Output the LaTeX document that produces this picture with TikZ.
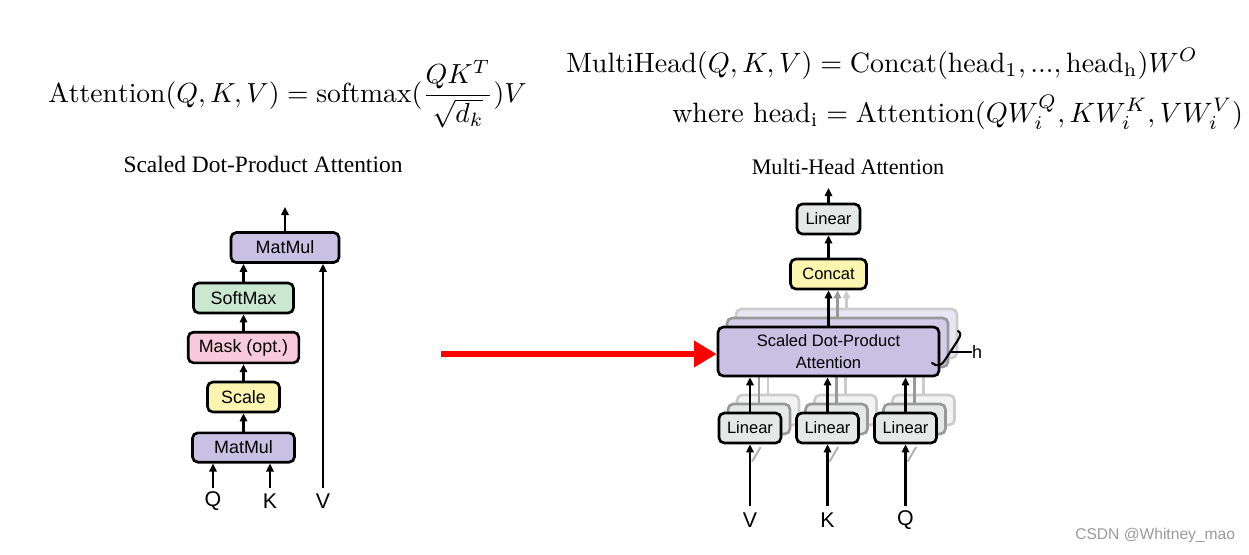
\documentclass[tikz,border=0pt]{standalone}
\usepackage{fontspec}
\usepackage{amsmath}
\usetikzlibrary{arrows.meta}
\newfontfamily\sansf{Liberation Sans}
\newfontfamily\seriff{Liberation Serif}
\definecolor{lav}{HTML}{C9C1E3}
\definecolor{mint}{HTML}{C9E8CF}
\definecolor{pinkb}{HTML}{F9CADB}
\definecolor{yel}{HTML}{FBF5B0}
\definecolor{lgr}{HTML}{E4E8E6}
\definecolor{wm}{HTML}{9A9A9A}
\begin{document}
\begin{tikzpicture}[x=0.75pt,y=-0.75pt,
  box/.style={draw=black, line width=2pt, rounded corners=4pt, inner sep=0pt, align=center},
  lbox/.style={box, font=\fontsize{13.4}{15}\sansf},
  rbox/.style={box, font=\fontsize{12.4}{15}\sansf},
  arr/.style={line width=1.9pt, -{Triangle[length=6pt,width=5.5pt]}},
  lab/.style={font=\fontsize{16}{18}\sansf, inner sep=0pt},
  sdpastyle/.style={rbox, minimum width=165.75pt, minimum height=36.75pt},
  linstyle/.style={rbox, minimum width=46.5pt, minimum height=22.5pt},
  far/.style={draw=gray!40, fill=lav!40},
  mid/.style={draw=gray!80, fill=lav!80},
  farl/.style={draw=gray!40, fill=lgr!50},
  midl/.style={draw=gray!80, fill=lgr},
  ghost/.style={line width=1.5pt, gray!60},
]
\useasboundingbox (0,0) rectangle (1249,554);

% ---------------- equations ----------------
\node[anchor=base west, inner sep=0pt] (eqA) at (48,102)
  {\scalebox{2.07}{$\displaystyle \mathrm{Attention}(Q,K,V)=\mathrm{softmax}(\frac{QK^T}{\sqrt{d_k}})V$}};
\node[anchor=base west, inner sep=0pt] (eqB) at (566,72)
  {\scalebox{2.1}{$\mathrm{MultiHead}(Q,K,V)=\mathrm{Concat}(\mathrm{head_1},...,\mathrm{head_h})W^O$}};
\node[anchor=base west, inner sep=0pt] (eqC) at (672,122)
  {\scalebox{2.1}{$\text{where }\mathrm{head_i}=\mathrm{Attention}(QW_i^Q,KW_i^K,VW_i^V)$}};

% ---------------- titles ----------------
\node[font=\fontsize{17.6}{20}\seriff] (tl) at (263,164) {Scaled Dot-Product Attention};
\node[font=\fontsize{16.6}{19}\seriff] (tr) at (848,167) {Multi-Head Attention};

% ---------------- left diagram ----------------
\node[lbox, fill=lav, minimum width=81pt, minimum height=22.5pt] (mmtop) at (285,247.5) {MatMul};
\node[lbox, fill=mint, minimum width=75pt, minimum height=22.5pt] (soft) at (243.5,298) {SoftMax};
\node[lbox, fill=pinkb, minimum width=83pt, minimum height=23pt] (mask) at (243.5,347.5) {Mask (opt.)};
\node[lbox, fill=yel, minimum width=54pt, minimum height=22.5pt] (scale) at (243.5,397) {Scale};
\node[lbox, fill=lav, minimum width=76.5pt, minimum height=22pt] (mmbot) at (243.5,447.5) {MatMul};

\draw[arr] (mmbot.north) -- (scale.south);
\draw[arr] (scale.north) -- (mask.south);
\draw[arr] (mask.north) -- (soft.south);
\draw[arr] (soft.north) -- (soft.north |- mmtop.south);
\coordinate (outL) at (285,207);
\draw[arr] (mmtop.north) -- (outL);

\coordinate (qin) at (213,488);
\coordinate (kin) at (270,488);
\coordinate (vin) at (323,488);
\draw[arr] (qin) -- (qin |- mmbot.south);
\draw[arr] (kin) -- (kin |- mmbot.south);
\draw[arr] (vin) -- (vin |- mmtop.south);
\node[lab] (ql) at (213,501) {Q};
\node[lab] (kl) at (270,501) {K};
\node[lab] (vl) at (323,501) {V};

% ---------------- right diagram ----------------
% far layer (h-th head)
\node[sdpastyle, far] (sdpa3) at (846.5,333.5) {};
\node[linstyle, farl] (linV3) at (768,410) {};
\node[linstyle, farl] (linK3) at (845.5,410) {};
\node[linstyle, farl] (linQ3) at (923.5,410) {};
\foreach \n in {linV3,linK3,linQ3}
  \draw[line width=1.8pt, gray!40] (\n.north) -- (\n.north |- sdpa3.south);
% middle layer
\node[sdpastyle, mid] (sdpa2) at (837.5,342.5) {};
\node[linstyle, midl] (linV2) at (759,419) {};
\node[linstyle, midl] (linK2) at (836.5,419) {};
\node[linstyle, midl] (linQ2) at (914.5,419) {};
\foreach \n in {linV2,linK2,linQ2}
  \draw[line width=1.8pt, gray!80] (\n.north) -- (\n.north |- sdpa2.south);
% front layer
\node[sdpastyle, fill=lav] (sdpa) at (828.5,351.5) {Scaled Dot-Product\\[2pt]Attention};
\node[linstyle, fill=lgr] (linV) at (750,428) {Linear};
\node[linstyle, fill=lgr] (linK) at (827.5,428) {Linear};
\node[linstyle, fill=lgr] (linQ) at (905.5,428) {Linear};
\foreach \n in {linV,linK,linQ}
  \draw[arr] (\n.north) -- (\n.north |- sdpa.south);

\node[rbox, fill=yel, minimum width=57pt, minimum height=22.5pt] (concat) at (828.5,274) {Concat};
\node[linstyle, fill=lgr, minimum width=47.25pt] (lintop) at (828.5,219) {Linear};

\draw[arr, gray!40] (sdpa3.north) -- (sdpa3.north |- concat.south);
\draw[arr, gray!80] (sdpa2.north) -- (sdpa2.north |- concat.south);
\draw[arr] (sdpa.north) -- (concat.south);
\draw[arr] (concat.north) -- (lintop.south);
\coordinate (outR) at (828.5,188);
\draw[arr] (lintop.north) -- (outR);

\coordinate (vinR) at (750,506);
\coordinate (kinR) at (827.5,506);
\coordinate (qinR) at (905.5,506);
% faint copies of the inputs going to the other heads
\foreach \c/\n in {vinR/linV,kinR/linK,qinR/linQ}
  \draw[ghost] ([xshift=1.5pt,yshift=-13pt]\n.south) -- ([xshift=8pt,yshift=-2pt]\n.south);
\draw[arr] (vinR) -- (linV.south);
\draw[arr] (kinR) -- (linK.south);
\draw[arr] (qinR) -- (linQ.south);
\node[lab] (vlR) at (750,520) {V};
\node[lab] (klR) at (827.5,520) {K};
\node[lab] (qlR) at (905.5,520) {Q};

% h bracket
\draw[line width=1.6pt, line cap=round] (932,363) .. controls (937,367) and (941,366) .. (945,360)
   -- (958,340) .. controls (961,335) and (961,333) .. (958,331);
\node[font=\fontsize{13.5}{15}\sansf, inner sep=0pt] (hl) at (977,352) {h};
\draw[line width=1.2pt] (951,352) -- (hl.west);

% red arrow
\coordinate (redS) at (441,354);
\draw[red, line width=5pt, -{Triangle[length=17pt,width=19pt]}] (redS) -- (sdpa.west |- redS);

% watermark
\node[font=\fontsize{11.7}{14}\sansf, text=wm, anchor=west, inner sep=0pt] (wmk) at (1075,535) {CSDN @Whitney\_mao};
\end{tikzpicture}
\end{document}
